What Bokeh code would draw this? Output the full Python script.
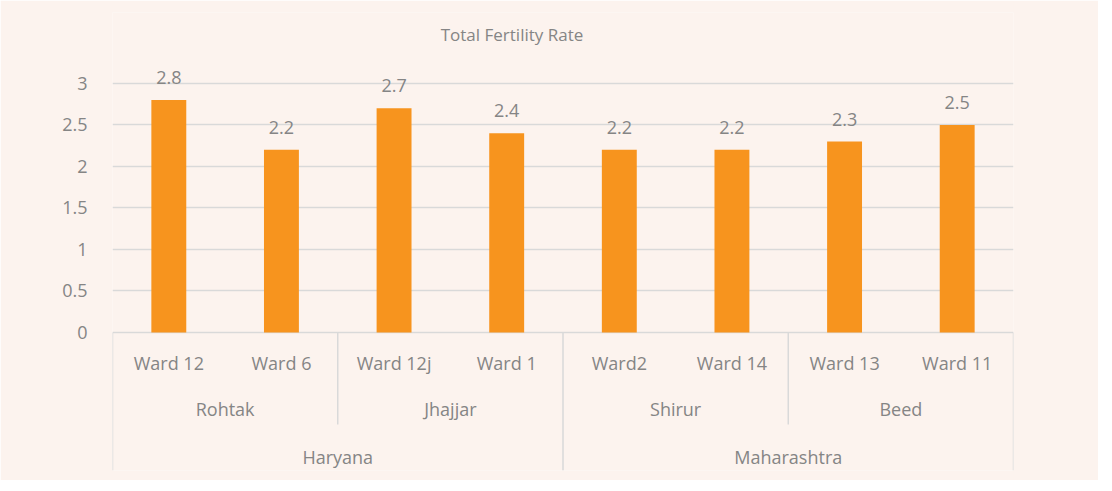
from bokeh.plotting import figure
from bokeh.models import ColumnDataSource, FactorRange, Range1d, FixedTicker
from bokeh.core.properties import value
from bokeh.embed import file_html
from bokeh.resources import INLINE

# ---- data ----
states = ["Haryana", "Haryana", "Haryana", "Haryana",
          "Maharashtra", "Maharashtra", "Maharashtra", "Maharashtra"]
districts = ["Rohtak", "Rohtak", "Jhajjar", "Jhajjar",
             "Shirur", "Shirur", "Beed", "Beed"]
wards = ["Ward 12", "Ward 6", "Ward 12j", "Ward 1",
         "Ward2", "Ward 14", "Ward 13", "Ward 11"]
tfr = [2.8, 2.2, 2.7, 2.4, 2.2, 2.2, 2.3, 2.5]
y_ticks = [0, 0.5, 1, 1.5, 2, 2.5, 3]
title_text = "Total Fertility Rate"

# ---- styles ----
BG = "#FCF3EE"
BAR = "#F7941E"
GRID = "#D9D9D9"
TXT = "#858585"
FONT = "Open Sans"
FS = "18px"

factors = list(zip(states, districts, wards))
src = ColumnDataSource(dict(x=factors, top=tfr, lab=[f"{v:g}" for v in tfr]))

x_range = FactorRange(*factors, factor_padding=0, subgroup_padding=0,
                      group_padding=0, range_padding=0)
y_range = Range1d(-1.663, 3.855)

p = figure(width=1098, height=480, x_range=x_range, y_range=y_range,
           output_backend="svg", toolbar_location=None, x_axis_location=None,
           min_border_left=112, min_border_right=85,
           min_border_top=12, min_border_bottom=10)
p.background_fill_color = BG
p.border_fill_color = BG
p.outline_line_color = None

# grid / y axis
p.yaxis.ticker = FixedTicker(ticks=y_ticks)
p.yaxis.major_label_overrides = {t: f"{t:g}" for t in y_ticks}
p.yaxis.axis_line_color = None
p.yaxis.major_tick_line_color = None
p.yaxis.minor_tick_line_color = None
p.yaxis.major_label_standoff = 19
p.yaxis.major_label_text_font = FONT
p.yaxis.major_label_text_font_size = FS
p.yaxis.major_label_text_color = TXT
p.ygrid.grid_line_color = GRID
p.ygrid.grid_line_width = 1.5
p.xgrid.grid_line_color = None

# bars
p.vbar(x="x", top="top", width=0.31, source=src, fill_color=BAR, line_color=None)
p.text(x="x", y="top", text="lab", source=src, text_align="center",
       text_baseline="bottom", y_offset=-16, text_font=value(FONT),
       text_font_size=FS, text_color=TXT)

# category labels
p.text(x=factors, y=[-0.373] * len(factors), text=wards, text_align="center",
       text_baseline="middle", text_font=value(FONT), text_font_size=FS,
       text_color=TXT)
dist_f, dist_t = [], []
for s, d in zip(states, districts):
    if (s, d) not in dist_f:
        dist_f.append((s, d)); dist_t.append(d)
p.text(x=dist_f, y=[-0.928] * len(dist_f), text=dist_t, text_align="center",
       text_baseline="middle", text_font=value(FONT), text_font_size=FS,
       text_color=TXT)
state_f = list(dict.fromkeys(states))
p.text(x=state_f, y=[-1.506] * len(state_f), text=state_f, text_align="center",
       text_baseline="middle", text_font=value(FONT), text_font_size=FS,
       text_color=TXT)

# separators (synthetic positions from group boundaries)
n = len(wards)
state_b = [0] + [i for i in range(1, n) if states[i] != states[i - 1]] + [n]
dist_b = [i for i in range(1, n) if districts[i] != districts[i - 1] and states[i] == states[i - 1]]
p.segment(x0=state_b, x1=state_b, y0=[0] * len(state_b), y1=[-1.663] * len(state_b),
          line_color=GRID, line_width=1.5)
p.segment(x0=dist_b, x1=dist_b, y0=[0] * len(dist_b), y1=[-1.108] * len(dist_b),
          line_color=GRID, line_width=1.5)

# title
p.text(x=[3.547], y=[3.59], text=[title_text], text_align="center",
       text_baseline="middle", text_font=value(FONT), text_font_size="17px",
       text_color=TXT)

open("out.html", "w").write(file_html(p, INLINE))
